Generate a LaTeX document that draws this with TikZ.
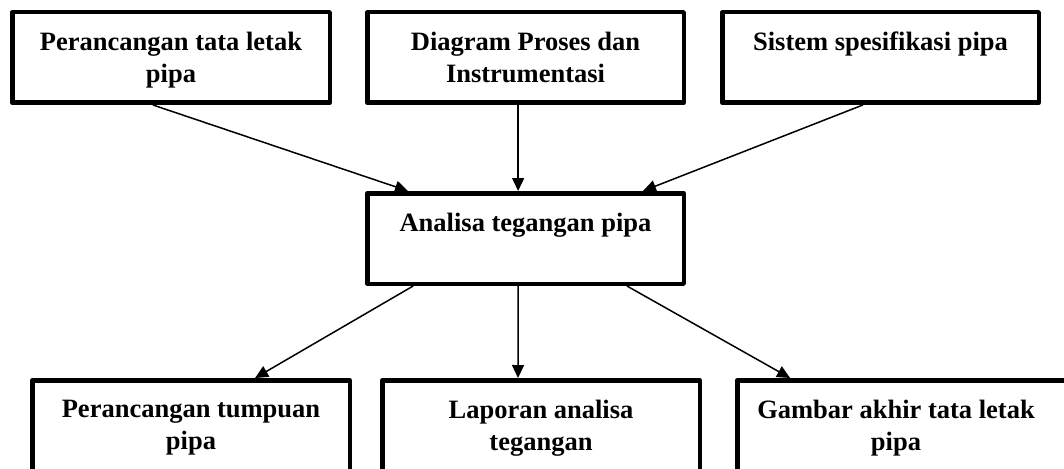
\documentclass[tikz,border=0pt]{standalone}
\usepackage{fontspec}
\setmainfont{Liberation Serif}
\usetikzlibrary{arrows.meta,calc}
\tikzset{
  box/.style={draw=black, line width=4.5pt, line join=round, fill=white, inner sep=0pt, minimum height=90.5pt},
  lbl/.style={anchor=north, inner sep=0pt, align=center, font=\bfseries\fontsize{26.5}{32}\selectfont},
  arr/.style={draw=black, line width=1.5pt, -{Triangle[length=13pt,width=12pt]}}
}
\begin{document}
\begin{tikzpicture}[x=1pt,y=-1pt]
\useasboundingbox (0,0) rectangle (1064,468);
\clip (0,0) rectangle (1064,468);
\fill[white] (0,0) rectangle (1064,468);
% boxes
\node[box, minimum width=317.5pt] (tl) at (171,57.5) {};
\node[box, minimum width=316.5pt] (tm) at (525.5,57.5) {};
\node[box, minimum width=316.5pt] (tr) at (880.5,57.5) {};
\node[box, minimum width=316.5pt] (m) at (525.5,238.5) {};
\node[box, minimum width=317.5pt] (bl) at (191,425.5) {};
\node[box, minimum width=317.5pt] (bm) at (541,425.5) {};
\node[box, minimum width=335.5pt] (br) at (905,425.5) {};
% labels
\node[lbl] (tlt) at ($(tl.north)+(0,21.8)$) {Perancangan tata letak\\pipa};
\node[lbl] (tmt) at ($(tm.north)+(0,21.8)$) {Diagram Proses dan\\Instrumentasi};
\node[lbl] (trt) at ($(tr.north)+(0,21.8)$) {Sistem spesifikasi pipa};
\node[lbl] (mt) at ($(m.north)+(0,21.8)$) {Analisa tegangan pipa};
\node[lbl] (blt) at ($(bl.north)+(0,21.8)$) {Perancangan tumpuan\\pipa};
\node[lbl] (bmt) at ($(bm.north)+(0,21.8)$) {Laporan analisa\\tegangan};
\node[lbl] (brt) at ($(br.north west)+(161,21.8)$) {Gambar akhir tata letak\\pipa};
% connectors
\draw[arr] ($(tl.south west)!0.444!(tl.south east)$) -- ($(m.north west)!0.134!(m.north east)$);
\draw[arr] ($(tm.south west)!0.477!(tm.south east)$) -- ($(m.north west)!0.477!(m.north east)$);
\draw[arr] ($(tr.south west)!0.445!(tr.south east)$) -- ($(m.north west)!0.866!(m.north east)$);
\draw[arr] ($(m.south west)!0.15!(m.south east)$) -- ($(bl.north west)!0.699!(bl.north east)$);
\draw[arr] ($(m.south west)!0.477!(m.south east)$) -- ($(bm.north west)!0.4286!(bm.north east)$);
\draw[arr] ($(m.south west)!0.816!(m.south east)$) -- ($(br.north west)!0.162!(br.north east)$);
\end{tikzpicture}
\end{document}
